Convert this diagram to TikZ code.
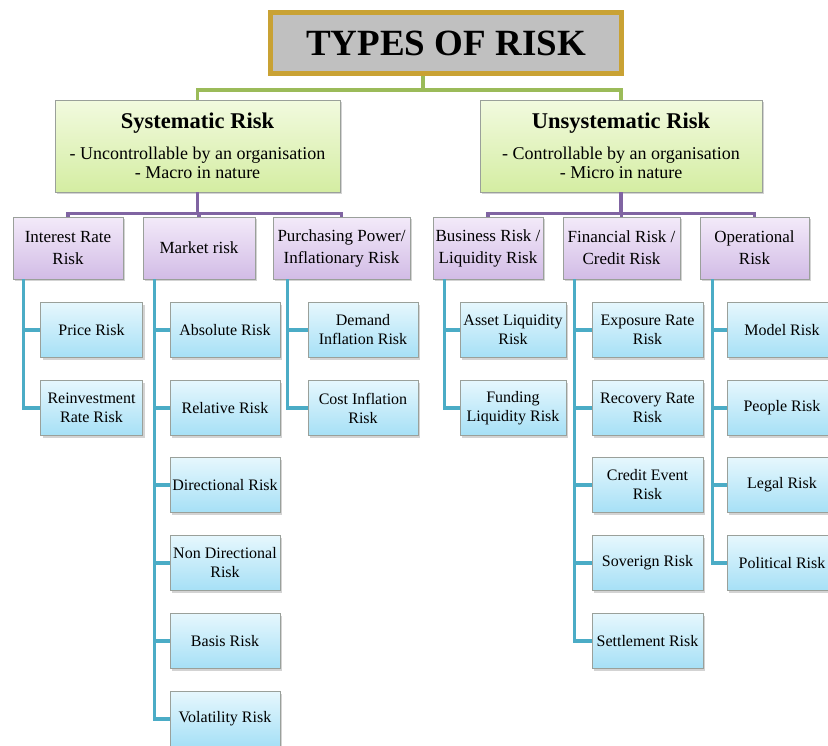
\documentclass[tikz,border=0pt]{standalone}
\usepackage{fontspec}
\setmainfont{Liberation Serif}
\usetikzlibrary{shadows}
\definecolor{gtop}{HTML}{F2FADF}
\definecolor{gbot}{HTML}{D4EDA2}
\definecolor{ptop}{HTML}{F3EAF9}
\definecolor{pbot}{HTML}{D2BCE6}
\definecolor{btop}{HTML}{E6F7FD}
\definecolor{bbot}{HTML}{A6E0F6}
\definecolor{bordergray}{HTML}{9AA09A}
\definecolor{titlefill}{HTML}{C0C0C0}
\definecolor{titlegold}{HTML}{C9A234}
\definecolor{gline}{HTML}{9BBB59}
\definecolor{pline}{HTML}{8064A2}
\definecolor{bline}{HTML}{4BACC6}
\tikzset{
  boxbase/.style={draw=bordergray, line width=0.8pt, align=center, inner sep=1pt,
    drop shadow={shadow xshift=2pt, shadow yshift=-2pt, opacity=0.35}},
  titlebox/.style={draw=titlegold, line width=5pt, fill=titlefill, minimum width=351pt, minimum height=61pt,
    font=\fontsize{37}{40}\selectfont\bfseries},
  lvlone/.style={boxbase, top color=gtop, bottom color=gbot, font=\fontsize{18}{19}\selectfont},
  lvltwo/.style={boxbase, top color=ptop, bottom color=pbot, minimum height=62pt, font=\fontsize{17}{22}\selectfont},
  lvlthree/.style={boxbase, top color=btop, bottom color=bbot, minimum height=55pt, font=\fontsize{16}{19}\selectfont},
  glink/.style={draw=gline, line width=3.5pt},
  plink/.style={draw=pline, line width=3.5pt},
  blink/.style={draw=bline, line width=3.5pt},
}
\begin{document}
\begin{tikzpicture}[x=1pt,y=-1pt]
\useasboundingbox (0,0) rectangle (828,745);
\clip (0,0) rectangle (828,745);
% title
\node[titlebox] (title) at (446,43) {TYPES OF RISK};
% level 1
\node[lvlone, minimum width=285pt, minimum height=92pt] (sys) at (197.5,146)
  {{\fontsize{22.5}{24}\selectfont\bfseries Systematic Risk}\\[12pt]- Uncontrollable by an organisation\\- Macro in nature};
\node[lvlone, minimum width=282pt, minimum height=92pt] (unsys) at (621,146)
  {{\fontsize{22.5}{24}\selectfont\bfseries Unsystematic Risk}\\[12pt]- Controllable by an organisation\\- Micro in nature};
% level 2
\node[lvltwo, minimum width=110pt] (ir) at (68,248) {Interest Rate\\Risk};
\node[lvltwo, minimum width=112pt] (mkt) at (199,248) {Market risk};
\node[lvltwo, minimum width=137pt] (pp) at (341.5,248) {Purchasing Power/\\Inflationary Risk};
\node[lvltwo, minimum width=110pt] (bus) at (488,248) {Business Risk /\\Liquidity Risk};
\node[lvltwo, minimum width=117pt] (fin) at (621.5,248) {Financial Risk /\\Credit Risk};
\node[lvltwo, minimum width=109pt] (op) at (754.5,248) {Operational\\Risk};
% level 3
\node[lvlthree, minimum width=102pt] (price) at (91.5,330) {Price Risk};
\node[lvlthree, minimum width=102pt] (reinv) at (91.5,408) {Reinvestment\\Rate Risk};
\node[lvlthree, minimum width=110pt] (abs) at (225,330) {Absolute Risk};
\node[lvlthree, minimum width=110pt] (rel) at (225,408) {Relative Risk};
\node[lvlthree, minimum width=110pt] (dir) at (225,485) {Directional Risk};
\node[lvlthree, minimum width=110pt] (ndir) at (225,563) {Non Directional\\Risk};
\node[lvlthree, minimum width=110pt] (basis) at (225,641) {Basis Risk};
\node[lvlthree, minimum width=110pt] (vol) at (225,719) {Volatility Risk};
\node[lvlthree, minimum width=110pt] (dem) at (363,330) {Demand\\Inflation Risk};
\node[lvlthree, minimum width=110pt] (cost) at (363,408) {Cost Inflation\\Risk};
\node[lvlthree, minimum width=106pt] (asset) at (513,330) {Asset Liquidity\\Risk};
\node[lvlthree, minimum width=106pt] (fund) at (513,408) {Funding\\Liquidity Risk};
\node[lvlthree, minimum width=111pt] (expo) at (647.5,330) {Exposure Rate\\Risk};
\node[lvlthree, minimum width=111pt] (reco) at (647.5,408) {Recovery Rate\\Risk};
\node[lvlthree, minimum width=111pt] (cred) at (647.5,485) {Credit Event\\Risk};
\node[lvlthree, minimum width=111pt] (sov) at (647.5,563) {Soverign Risk};
\node[lvlthree, minimum width=111pt] (sett) at (647.5,641) {Settlement Risk};
\node[lvlthree, minimum width=110pt] (model) at (782,330) {Model Risk};
\node[lvlthree, minimum width=110pt] (people) at (782,408) {People Risk};
\node[lvlthree, minimum width=110pt] (legal) at (782,485) {Legal Risk};
\node[lvlthree, minimum width=110pt] (polit) at (782,563) {Political Risk};
% connectors
\draw[glink] (title.south west) ++(155,0) -- ++(0,14) -| (sys.north);
\draw[glink] (title.south west) ++(155,14) -| (unsys.north);
\draw[plink] (sys.south) -- ++(0,21) -| (ir.north);
\draw[plink] (sys.south) ++(0,21) -| (pp.north);
\draw[plink] (sys.south) ++(0,21) -| (mkt.north);
\draw[plink] (unsys.south) -- ++(0,21) -| (bus.north);
\draw[plink] (unsys.south) ++(0,21) -| (op.north);
\draw[plink] (unsys.south) ++(0,21) -| (fin.north);
\foreach \k in {price,reinv} \draw[blink] (ir.south west) ++(11,0) |- (\k.west);
\foreach \k in {abs,rel,dir,ndir,basis,vol} \draw[blink] (mkt.south west) ++(12,0) |- (\k.west);
\foreach \k in {dem,cost} \draw[blink] (pp.south west) ++(15,0) |- (\k.west);
\foreach \k in {asset,fund} \draw[blink] (bus.south west) ++(12,0) |- (\k.west);
\foreach \k in {expo,reco,cred,sov,sett} \draw[blink] (fin.south west) ++(12,0) |- (\k.west);
\foreach \k in {model,people,legal,polit} \draw[blink] (op.south west) ++(13,0) |- (\k.west);
\end{tikzpicture}
\end{document}
